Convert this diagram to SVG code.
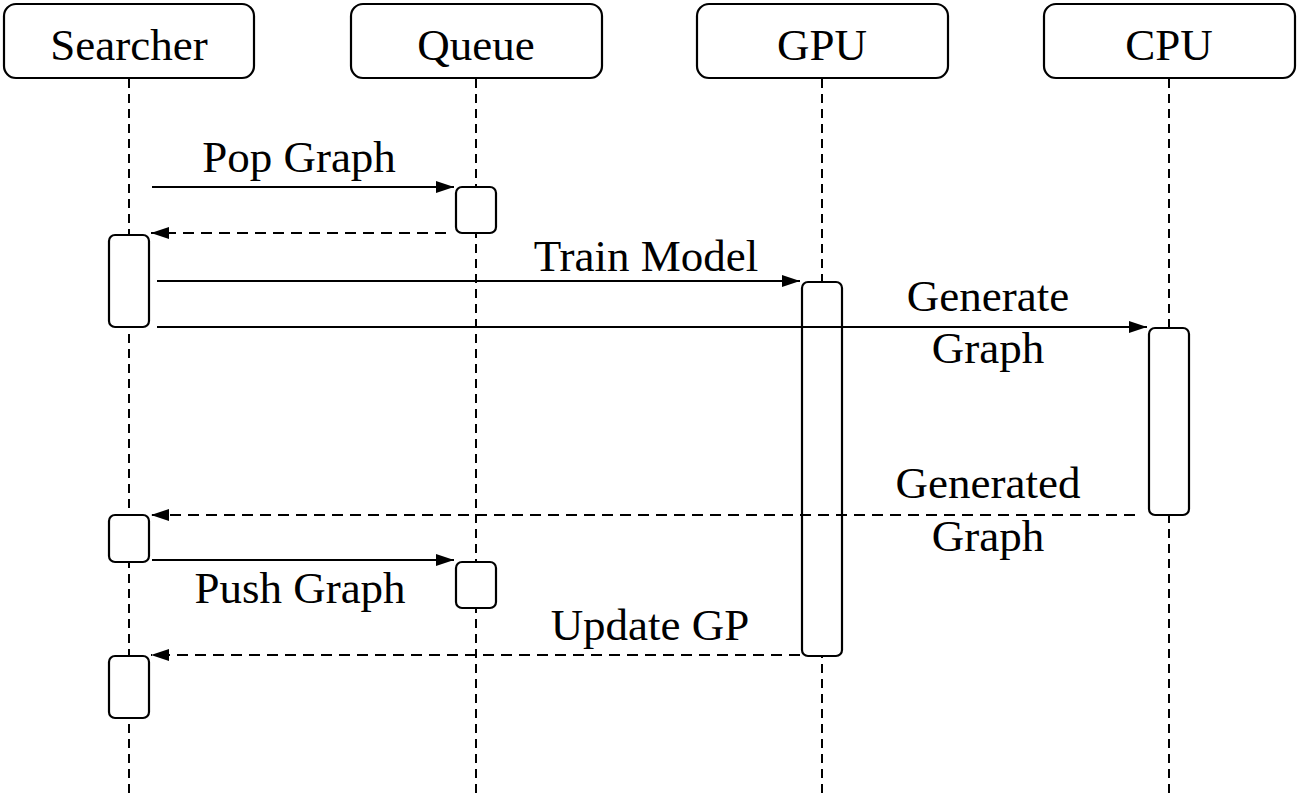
<svg xmlns="http://www.w3.org/2000/svg" width="1299" height="795" viewBox="0 0 1299 795">
<style>
.hdr{fill:#fff;stroke:#000;stroke-width:2.2}
.act{fill:#fff;stroke:#000;stroke-width:2.2}
.life{stroke:#000;stroke-width:2;stroke-dasharray:9 6;fill:none}
.msg{stroke:#000;stroke-width:2;fill:none}
.ret{stroke:#000;stroke-width:2;fill:none;stroke-dasharray:11 7}
text{font-family:"Liberation Serif","Times New Roman",serif;font-size:45px;fill:#000;text-anchor:middle}
</style>
<defs>
<marker id="ah" markerUnits="userSpaceOnUse" markerWidth="19" markerHeight="14" refX="18" refY="7" orient="auto">
<path d="M0,1 L18,7 L0,13 z" fill="#000"/>
</marker>
</defs>
<rect width="1299" height="795" fill="#fff"/>
<g id="lifelines">
<line class="life" x1="129" y1="79" x2="129" y2="795"/>
<line class="life" x1="476" y1="79" x2="476" y2="795"/>
<line class="life" x1="822" y1="79" x2="822" y2="795"/>
<line class="life" x1="1169" y1="79" x2="1169" y2="795"/>
</g>
<g id="searcher"><rect class="hdr" x="4" y="4" width="250" height="74" rx="12"/><text x="129" y="60">Searcher</text></g>
<g id="queue"><rect class="hdr" x="351" y="4" width="251" height="74" rx="12"/><text x="476" y="60">Queue</text></g>
<g id="gpu"><rect class="hdr" x="697" y="4" width="251" height="74" rx="12"/><text x="822" y="60">GPU</text></g>
<g id="cpu"><rect class="hdr" x="1044" y="4" width="251" height="74" rx="12"/><text x="1169" y="60">CPU</text></g>
<g id="activations">
<rect class="act" x="456" y="187" width="40" height="46" rx="6"/>
<rect class="act" x="109" y="235" width="40" height="92" rx="6"/>
<rect class="act" x="802" y="282" width="40" height="374" rx="6"/>
<rect class="act" x="1149" y="328" width="40" height="187" rx="6"/>
<rect class="act" x="109" y="515" width="40" height="47" rx="6"/>
<rect class="act" x="456" y="562" width="40" height="46" rx="6"/>
<rect class="act" x="109" y="656" width="40" height="62" rx="6"/>
</g>
<g id="connectors">
<line class="msg" x1="152" y1="187" x2="454" y2="187" marker-end="url(#ah)"/>
<line class="ret" x1="446" y1="233" x2="151" y2="233" marker-end="url(#ah)"/>
<line class="msg" x1="157" y1="281" x2="800" y2="281" marker-end="url(#ah)"/>
<line class="msg" x1="157" y1="327" x2="1147" y2="327" marker-end="url(#ah)"/>
<line class="ret" x1="1135" y1="515" x2="151" y2="515" marker-end="url(#ah)"/>
<line class="msg" x1="152" y1="560" x2="454" y2="560" marker-end="url(#ah)"/>
<line class="ret" x1="800" y1="655" x2="151" y2="655" marker-end="url(#ah)"/>
</g>
<g id="labels">
<text x="299" y="172">Pop Graph</text>
<text x="646" y="271">Train Model</text>
<text x="988" y="311">Generate</text>
<text x="988" y="363">Graph</text>
<text x="988" y="498">Generated</text>
<text x="988" y="551">Graph</text>
<text x="300" y="603">Push Graph</text>
<text x="650" y="640">Update GP</text>
</g>
</svg>
